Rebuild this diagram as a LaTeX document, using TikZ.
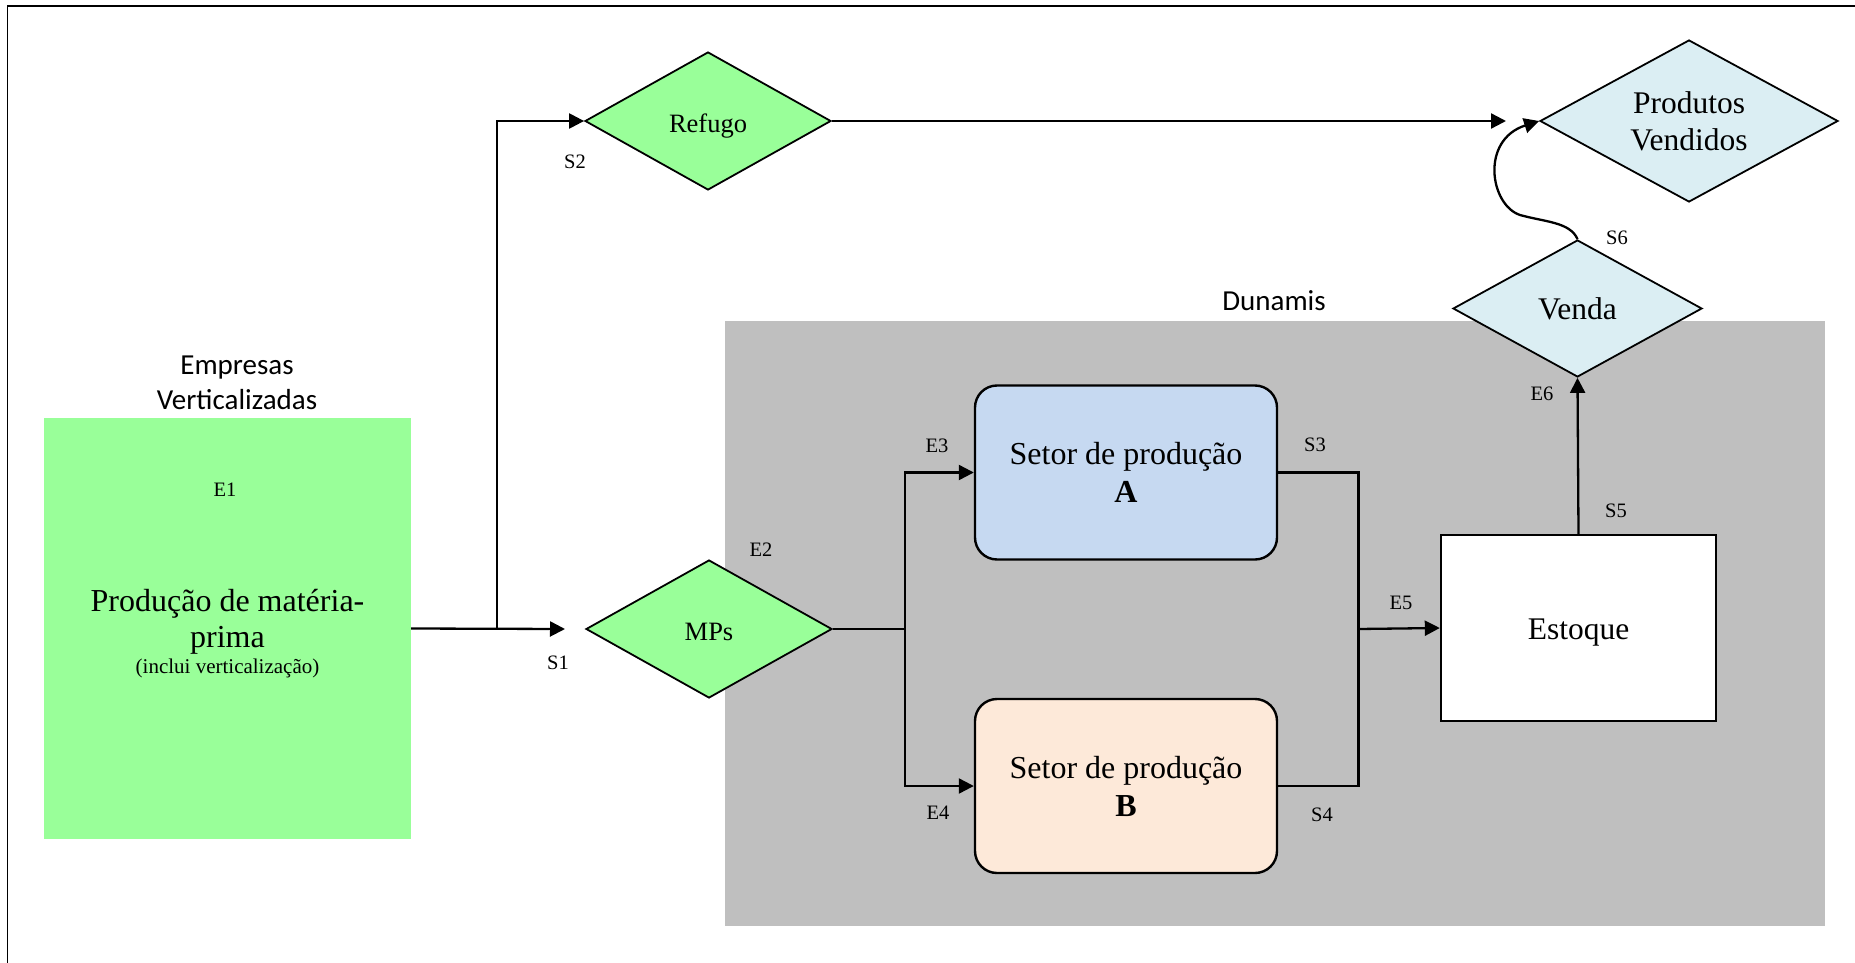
\documentclass[tikz,border=0pt]{standalone}
\usepackage{fontspec}
\setmainfont{Liberation Serif}
\newfontfamily\labelsans{Carlito}
\usetikzlibrary{shapes.geometric,arrows.meta}

\definecolor{leaf}{HTML}{99FF99}
\definecolor{sky}{HTML}{DBEEF3}
\definecolor{secblue}{HTML}{C6D9F1}
\definecolor{secpeach}{HTML}{FDE9D9}
\definecolor{panelgrey}{HTML}{BFBFBF}

% lower a text inside its node without changing the node's size
\newcommand{\sinktext}[2]{\raisebox{-#1}[\height][\depth]{#2}}

\begin{document}
\begin{tikzpicture}[x=1pt,y=-1pt,
  link/.style={line width=2.3pt},
  flow/.style={line width=2.3pt,-{Triangle[length=15pt,width=15pt]}},
  dia/.style={diamond,draw,line width=1.8pt,inner sep=0pt,align=center},
  sector/.style={draw,rounded corners=22pt,line width=2.4pt,
    minimum width=302pt,minimum height=174pt,align=center,
    font=\fontsize{32}{38}\selectfont},
  tag/.style={font=\fontsize{20.5}{24}\selectfont,inner sep=0pt},
  heading/.style={font=\labelsans\fontsize{29}{35}\selectfont,align=center,inner sep=0pt},
]
\useasboundingbox (0,0) rectangle (1855,963);

% page frame (left and top edges)
\draw[line width=1.8pt] (7.5,990) -- (7.5,6) -- (1880,6);

% Dunamis area
\fill[panelgrey] (725,321) rectangle (1825,926);
\node[heading] (dunamis) at (1274,301) {Dunamis};

% vertically integrated companies
\node[heading] (empresas) at (237,383) {Empresas\\Verticalizadas};
\node[fill=leaf,minimum width=367pt,minimum height=421pt,inner sep=0pt] (e1box) at (227.5,628.5) {};
\node[align=center,inner sep=0pt,font=\fontsize{32}{36}\selectfont] (e1text) at (227.5,634)
  {Produção de matéria-\\prima\\[-10pt]{\fontsize{21}{24}\selectfont(inclui verticalização)}};

% decision diamonds
\node[dia,fill=leaf,aspect=1.78,minimum width=246pt,minimum height=138pt,
  font=\fontsize{26.5}{30}\selectfont] (refugo) at (708,121) {\sinktext{5pt}{Refugo}};
\node[dia,fill=leaf,aspect=1.78,minimum width=246pt,minimum height=138pt,
  font=\fontsize{26.5}{30}\selectfont] (mps) at (709,629) {\sinktext{3pt}{MPs}};
\node[dia,fill=sky,aspect=1.84,minimum width=298pt,minimum height=162pt,
  font=\fontsize{31.5}{37}\selectfont] (pv) at (1689,121) {Produtos\\Vendidos};
\node[dia,fill=sky,aspect=1.82,minimum width=249pt,minimum height=137pt,
  font=\fontsize{31.5}{37}\selectfont] (venda) at (1577.5,308.5) {Venda};

% production sectors and stock
\node[sector,fill=secblue] (secA) at (1126,472.5) {Setor de produção\\\textbf{A}};
\node[sector,fill=secpeach] (secB) at (1126,786) {Setor de produção\\\textbf{B}};
\node[draw,fill=white,line width=2.4pt,minimum width=275pt,minimum height=186pt,
  font=\fontsize{31.5}{37}\selectfont] (estoque) at (1578.5,628) {\sinktext{5pt}{Estoque}};

% junction points
\coordinate (split) at (497,629);
\coordinate (s1tip) at (565,629);
\coordinate (pvtip) at (1506,121);
\coordinate (fork) at (905,629);
\coordinate (merge) at (1358.5,629);

% connectors
\draw[flow] (e1box.east) -- (s1tip);
\draw[flow] (split) |- (refugo.west);
\draw[flow] (refugo.east) -- (pvtip);
\draw[link] (mps.east) -- (fork);
\draw[flow] (fork) |- (secA.west);
\draw[flow] (fork) |- (secB.west);
\draw[link] (secA.east) -| (merge);
\draw[link] (secB.east) -| (merge);
\draw[flow] (merge) -- (estoque.west);
\draw[flow] (estoque.north) -- (venda.south);
\draw[flow] (venda.north) .. controls (1570,222) and (1545,222) .. (1520,215)
  .. controls (1490,205) and (1480,140) .. (pv.west);

% flow labels
\node[tag] (l-e1) at (225,490) {E1};
\node[tag] (l-s1) at (558,663) {S1};
\node[tag] (l-s2) at (575,162) {S2};
\node[tag] (l-e2) at (761,550) {E2};
\node[tag] (l-e3) at (937,446) {E3};
\node[tag] (l-s3) at (1315,445) {S3};
\node[tag] (l-e4) at (938,813) {E4};
\node[tag] (l-s4) at (1322,815) {S4};
\node[tag] (l-e5) at (1401,603) {E5};
\node[tag] (l-s5) at (1616,511) {S5};
\node[tag] (l-e6) at (1542,394) {E6};
\node[tag] (l-s6) at (1617,238) {S6};
\end{tikzpicture}
\end{document}
